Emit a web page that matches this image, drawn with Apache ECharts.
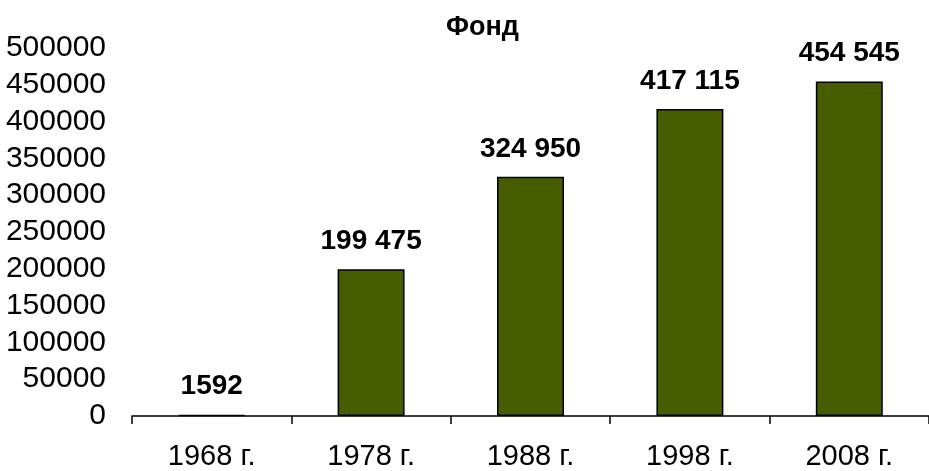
<!DOCTYPE html>
<html>
<head>
<meta charset="utf-8">
<script src="https://cdn.jsdelivr.net/npm/echarts@6/dist/echarts.min.js"></script>
<style>
html,body{margin:0;padding:0;background:#fff;}
#chart{width:929px;height:471px;}
</style>
</head>
<body>
<div id="chart"></div>
<script>
const titleText = 'Фонд';
const categories = ['1968 г.', '1978 г.', '1988 г.', '1998 г.', '2008 г.'];
const values = [1592, 199475, 324950, 417115, 454545];
const valueLabels = ['1592', '199 475', '324 950', '417 115', '454 545'];
const yMin = 0, yMax = 500000, yStep = 50000;

const FONT = '"Liberation Sans", Arial, sans-serif';
const chart = echarts.init(document.getElementById('chart'), null, {renderer: 'canvas'});
chart.setOption({
  animation: false,
  backgroundColor: '#ffffff',
  title: {
    text: titleText,
    left: 441,
    top: 9,
    textStyle: {fontFamily: FONT, fontSize: 27, fontWeight: 'bold', color: '#000'}
  },
  grid: {left: 132, right: -3, top: 48, bottom: 53, containLabel: false},
  xAxis: {
    type: 'category',
    data: categories,
    boundaryGap: true,
    axisLine: {show: true, lineStyle: {color: '#000', width: 1.5}},
    axisTick: {show: true, length: 8, alignWithLabel: false, lineStyle: {color: '#000', width: 1.5}},
    axisLabel: {fontFamily: FONT, fontSize: 29, color: '#000', margin: 26}
  },
  yAxis: {
    type: 'value',
    min: yMin, max: yMax, interval: yStep,
    axisLine: {show: false},
    axisTick: {show: false},
    splitLine: {show: false},
    axisLabel: {fontFamily: FONT, fontSize: 30, color: '#000', margin: 26, formatter: v => String(v)}
  },
  series: [{
    type: 'bar',
    data: values,
    barWidth: '42%',
    itemStyle: {color: '#485c00', borderColor: '#000', borderWidth: 1.5},
    label: {
      show: true,
      position: 'top',
      distance: 14,
      fontFamily: FONT,
      fontSize: 28,
      fontWeight: 'bold',
      color: '#000',
      formatter: p => valueLabels[p.dataIndex]
    }
  }]
});
</script>
</body>
</html>
